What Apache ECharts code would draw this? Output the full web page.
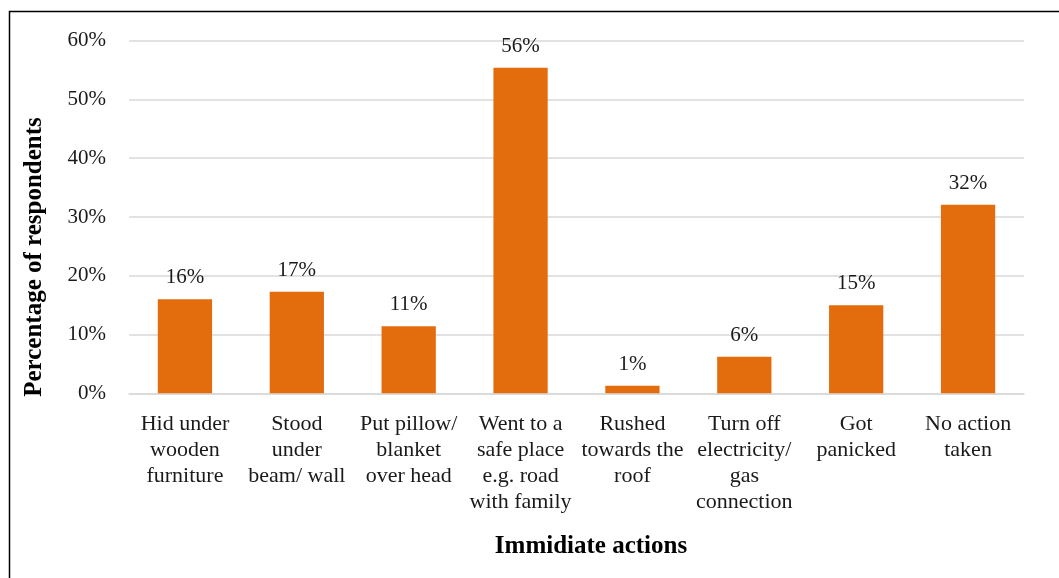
<!DOCTYPE html>
<html>
<head>
<meta charset="utf-8">
<script src="https://cdn.jsdelivr.net/npm/echarts@6/dist/echarts.min.js"></script>
<style>
html,body{margin:0;padding:0;background:#fff;}
#chart{width:1059px;height:578px;}
</style>
</head>
<body>
<div id="chart"></div>
<script>
var categories = [
  "Hid under\nwooden\nfurniture",
  "Stood\nunder\nbeam/ wall",
  "Put pillow/\nblanket\nover head",
  "Went to a\nsafe place\ne.g. road\nwith family",
  "Rushed\ntowards the\nroof",
  "Turn off\nelectricity/\ngas\nconnection",
  "Got\npanicked",
  "No action\ntaken"
];
var values = [16.0, 17.3, 11.4, 55.4, 1.3, 6.2, 15.0, 32.1];
var labels = ["16%", "17%", "11%", "56%", "1%", "6%", "15%", "32%"];
var yTicks = [0, 10, 20, 30, 40, 50, 60];
var yTitle = "Percentage of respondents";
var xTitle = "Immidiate actions";

var font = "'Liberation Serif', 'Times New Roman', serif";
var chart = echarts.init(document.getElementById('chart'));
chart.setOption({
  animation: false,
  backgroundColor: '#fff',
  grid: {left: 129, right: 35, top: 40.7, bottom: 184.7, containLabel: false},
  xAxis: {
    type: 'category',
    data: categories,
    axisLine: {show: true, lineStyle: {color: '#d9d9d9', width: 1.5}},
    axisTick: {show: false},
    axisLabel: {
      interval: 0, margin: 18, fontFamily: font, fontSize: 22, color: '#1a1a1a',
      lineHeight: 26, align: 'center', verticalAlign: 'top'
    }
  },
  yAxis: {
    type: 'value',
    min: yTicks[0], max: yTicks[yTicks.length - 1], interval: 10,
    axisLine: {show: false},
    axisTick: {show: false},
    splitLine: {lineStyle: {color: '#d9d9d9', width: 1.5}},
    axisLabel: {
      margin: 23, fontFamily: font, fontSize: 21, color: '#1a1a1a',
      padding: [5, 0, 0, 0],
      formatter: function (v) { return v + '%'; }
    }
  },
  series: [{
    type: 'bar',
    data: values,
    barWidth: '48.5%',
    itemStyle: {color: '#E36C0D'},
    label: {
      show: true, position: 'top', distance: 11,
      fontFamily: font, fontSize: 21, color: '#1a1a1a',
      formatter: function (p) { return labels[p.dataIndex]; }
    }
  }],
  graphic: [
    {type: 'rect', shape: {x: 9.5, y: 11.5, width: 1100, height: 700},
     style: {fill: 'none', stroke: '#000', lineWidth: 1.5}, silent: true},
    {type: 'text', x: 35, y: 257, rotation: Math.PI / 2,
     style: {text: yTitle, fontFamily: font, fontSize: 25, fontWeight: 'bold', fill: '#000',
             align: 'center', verticalAlign: 'middle'}},
    {type: 'text', x: 591, y: 547,
     style: {text: xTitle, fontFamily: font, fontSize: 25, fontWeight: 'bold', fill: '#000',
             align: 'center', verticalAlign: 'middle'}}
  ]
});
</script>
</body>
</html>
